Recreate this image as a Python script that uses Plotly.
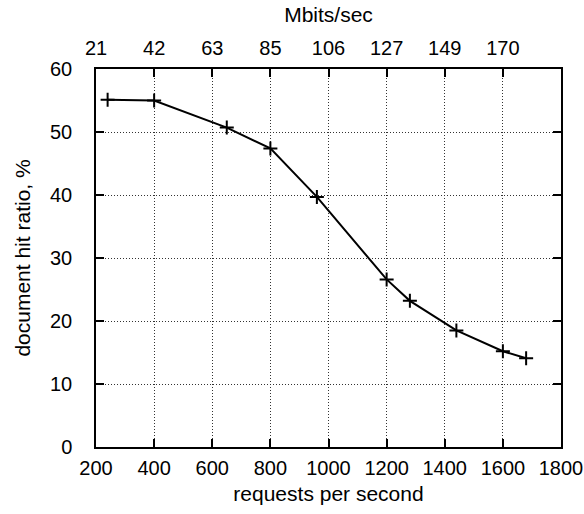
import plotly.graph_objects as go

requests = [240, 400, 650, 800, 960, 1200, 1280, 1440, 1600, 1680]
hit_ratio = [55.1, 55.0, 50.7, 47.4, 39.7, 26.6, 23.2, 18.5, 15.2, 14.1]

x_ticks = [200, 400, 600, 800, 1000, 1200, 1400, 1600, 1800]
y_ticks = [0, 10, 20, 30, 40, 50, 60]
top_tick_pos = [200, 400, 600, 800, 1000, 1200, 1400, 1600]
top_tick_text = ["21", "42", "63", "85", "106", "127", "149", "170"]

font = "Liberation Sans, Arial, Helvetica, sans-serif"
fs = 21
tfs = 20

fig = go.Figure()
fig.add_trace(go.Scatter(
    x=requests, y=hit_ratio, mode="lines+markers",
    line=dict(color="black", width=2),
    marker=dict(symbol="cross-thin", size=10, line=dict(color="black", width=2)),
    showlegend=False, hoverinfo="skip"))
fig.add_trace(go.Scatter(
    x=[x_ticks[0], x_ticks[-1]], y=[y_ticks[0], y_ticks[0]], xaxis="x2",
    mode="markers", marker=dict(opacity=0), showlegend=False, hoverinfo="skip"))

axis_common = dict(
    showline=True, linecolor="black", linewidth=1.5,
    ticks="inside", ticklen=8, tickwidth=1.5, tickcolor="black",
    showgrid=True, gridcolor="#333333", gridwidth=1, griddash="1px,2px",
    zeroline=False, automargin=False,
    tickfont=dict(family=font, size=tfs, color="black"),
)

fig.update_layout(
    width=584, height=514,
    margin=dict(l=96, r=23, t=69, b=67),
    paper_bgcolor="white", plot_bgcolor="white",
    font=dict(family=font, size=fs, color="black"),
    xaxis=dict(range=[x_ticks[0], x_ticks[-1]], tickvals=x_ticks, mirror=True,
               ticklabelstandoff=2,
               title=dict(text="requests per second", font=dict(family=font, size=fs), standoff=9),
               **axis_common),
    xaxis2=dict(range=[x_ticks[0], x_ticks[-1]], overlaying="x", side="top",
                tickvals=top_tick_pos, ticktext=top_tick_text, ticklabelstandoff=4,
                title=dict(text="Mbits/sec", font=dict(family=font, size=fs), standoff=9),
                **{**axis_common, "showgrid": False}),
    yaxis=dict(range=[y_ticks[0], y_ticks[-1]], tickvals=y_ticks, mirror="ticks",
               ticklabelstandoff=18,
               title=dict(text="document hit ratio, %", font=dict(family=font, size=fs), standoff=14),
               **axis_common),
)

fig.write_html("out.html")
